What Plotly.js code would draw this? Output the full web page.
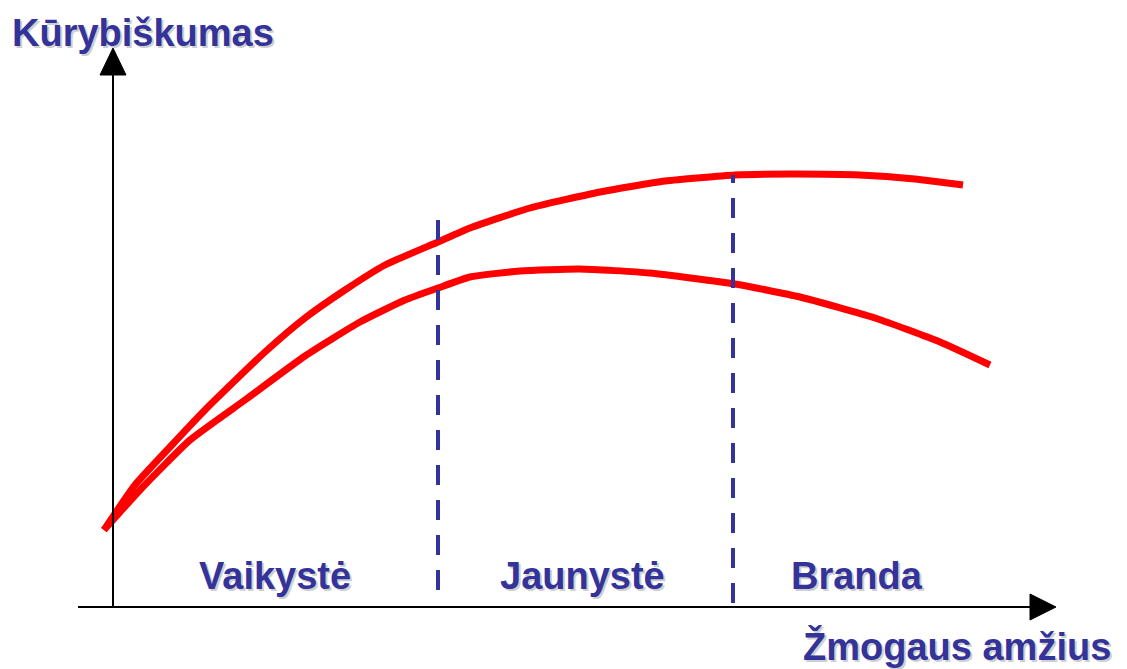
<!DOCTYPE html>
<html><head><meta charset="utf-8">
<script src="https://cdn.plot.ly/plotly-3.0.1.min.js"></script>
<style>html,body{margin:0;padding:0;background:#fff}#chart{width:1127px;height:669px}</style>
</head><body><div id="chart"></div>
<script>
// Data (units: age along x, creativity along y, origin at the axes corner)
const upperAge = [-9,22,57,92,152,192,232,272,325,357,417,487,552,622,677,747,802,850];
const upperCreativity = [77,122,160,197,255,289,317,342,365,379,399,415,426,432,433,432,428,422];
const lowerAge = [-9,27,77,132,192,247,292,325,357,407,467,537,622,687,762,827,877];
const lowerCreativity = [77,117,167,207,251,285,307,319,330,336,338,334,323,310,289,265,242];
const boundaryAges = [325,620];
const boundaryTops = [387,432];
const boundaryBottoms = [17,4];
const periodLabels = ["Vaikystė","Jaunystė","Branda"];
const periodCenters = [162,469,744];
const yTitle = "Kūrybiškumas";
const xTitle = "Žmogaus amžius";

const blue = "#333399";
const traces = [
  {x: upperAge, y: upperCreativity, mode:"lines", line:{color:"#ff0000", width:7, shape:"spline", smoothing:0.5}, hoverinfo:"skip"},
  {x: lowerAge, y: lowerCreativity, mode:"lines", line:{color:"#ff0000", width:7, shape:"spline", smoothing:0.5}, hoverinfo:"skip"}
];
boundaryAges.forEach((a,i)=>{
  traces.push({x:[a,a], y:[boundaryBottoms[i], boundaryTops[i]], mode:"lines",
    line:{color:blue, width:4, dash:"20px,15px"}, hoverinfo:"skip"});
});

const font = {family:"Liberation Sans, Arial, sans-serif", size:38, color:blue};
const shadowFont = Object.assign({}, font, {color:"#cfcfcf"});
const annotations = [];
function addLabel(text, x, y, xanchor){
  annotations.push({text, x, y, xref:"x", yref:"y", xanchor, yanchor:"middle", showarrow:false, font:shadowFont, xshift:2, yshift:-2});
  annotations.push({text, x, y, xref:"x", yref:"y", xanchor, yanchor:"middle", showarrow:false, font});
}
periodLabels.forEach((t,i)=>addLabel("<b>"+t+"</b>", periodCenters[i], 31, "center"));
addLabel("<b>"+yTitle+"</b>", -103, 574, "left");
addLabel("<b>"+xTitle+"</b>", 1000, -39, "right");

const shapes = [
  {type:"line", xref:"x", yref:"y", x0:-35, y0:0, x1:918, y1:0, line:{color:"#000", width:2}},
  {type:"line", xref:"x", yref:"y", x0:0, y0:0, x1:0, y1:533, line:{color:"#000", width:2}},
  {type:"path", xref:"x", yref:"y", path:"M 943 0 L 917 13 L 917 -13 Z", fillcolor:"#000", line:{color:"#000", width:1}},
  {type:"path", xref:"x", yref:"y", path:"M 0 559 L -13 532 L 13 532 Z", fillcolor:"#000", line:{color:"#000", width:1}}
];

const layout = {
  width:1127, height:669, margin:{l:0,r:0,t:0,b:0},
  paper_bgcolor:"#fff", plot_bgcolor:"#fff", showlegend:false,
  xaxis:{range:[-113,1014], visible:false, fixedrange:true},
  yaxis:{range:[-62,607], visible:false, fixedrange:true},
  shapes, annotations
};
Plotly.newPlot("chart", traces, layout, {staticPlot:true, displayModeBar:false});
</script></body></html>
